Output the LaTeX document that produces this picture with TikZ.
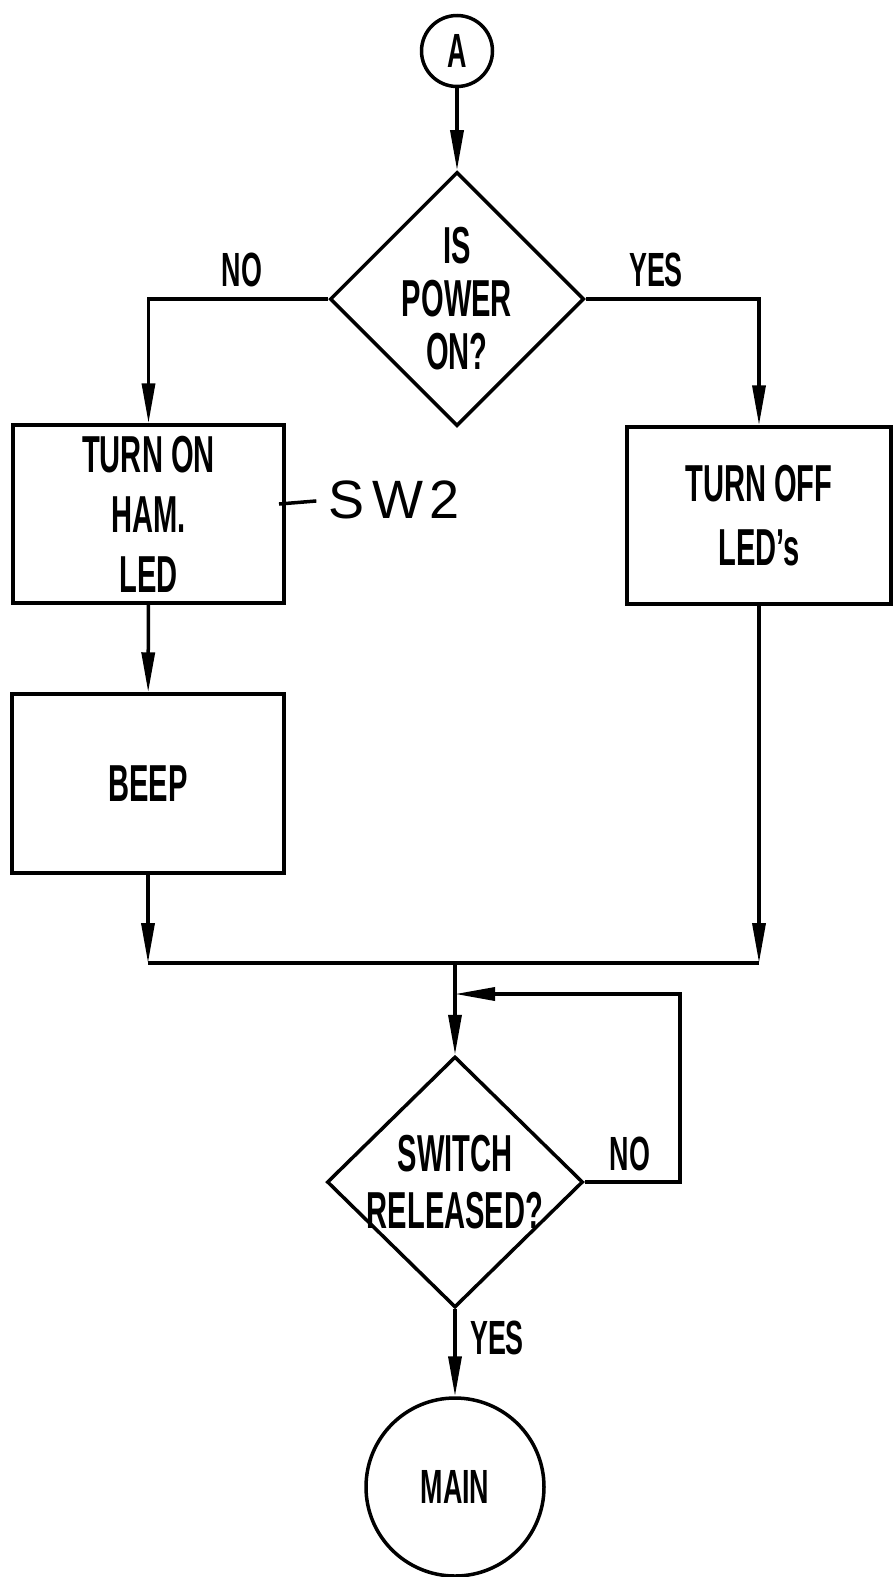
\documentclass[tikz,border=0pt]{standalone}
\usepackage{fontspec}
\newfontfamily\lbl{Liberation Sans Bold}[FakeStretch=0.56]
\newfontfamily\hand{Liberation Sans}
\usetikzlibrary{shapes.geometric,arrows.meta}
\begin{document}
\begin{tikzpicture}[x=1pt,y=-1pt,
  every node/.style={align=center},
  txt/.style={font=\lbl\fontsize{52}{#1}\selectfont},
  txt/.default=57,
  box/.style={draw, line width=3.5pt, rectangle, inner sep=0pt},
  dec/.style={draw, line width=3.5pt, diamond, inner sep=-40pt, aspect=1},
  term/.style={draw, line width=3.5pt, circle, inner sep=0pt},
  flow/.style={line width=3.5pt, -{Triangle[length=40pt,width=13pt]}},
  plain/.style={line width=3.5pt},
  lab/.style={inner sep=0pt, font=\lbl\fontsize{48}{48}\selectfont}]
\useasboundingbox (0,0) rectangle (893,1577);

\node[term, minimum size=71pt, font=\lbl\fontsize{48}{48}\selectfont] (a) at (457,51) {A};
\node[dec, txt=53, minimum width=254pt, minimum height=254pt] (d1) at (457,299) {IS\\POWER\\ON?};
\node[box, txt=60, minimum width=271pt, minimum height=178pt] (b1) at (148.5,514) {TURN ON\\HAM.\\LED};
\node[box, txt=64, minimum width=264pt, minimum height=177pt] (b2) at (759,515.5) {TURN OFF\\LED’s};
\node[box, txt, minimum width=272pt, minimum height=179pt] (b3) at (148,783.5) {BEEP};
\node[dec, txt=57, minimum width=256pt, minimum height=251pt] (d2) at (455,1182) {SWITCH\\RELEASED?};
\node[term, minimum size=178pt, font=\lbl\fontsize{48}{48}\selectfont] (main) at (455,1487) {MAIN};

\node[lab] (no1) at (242,270) {NO};
\node[lab] (yes1) at (656,270) {YES};
\node[lab] (no2) at (630,1154) {NO};
\node[lab] (yes2) at (497,1338) {YES};

\node[inner sep=0pt, font=\hand\fontsize{54}{54}\selectfont] (sw) at (394,500) {S\hspace{8pt}W\hspace{6pt}2};
\coordinate (swl) at (279,504);

\coordinate (m1) at (148,963);
\coordinate (m2) at (759,963);
\coordinate (mc) at (455,963);
\coordinate (fbc) at (680,994);
\coordinate (fb) at (455,994);

\draw[flow] (a) -- (d1);
\draw[flow] (d1.west) -| (b1.north);
\draw[flow] (d1.east) -| (b2.north);
\draw[flow] (b1) -- (b3);
\draw[flow] (b3) -- (m1);
\draw[flow] (b2) -- (m2);
\draw[plain] (m1) -- (m2);
\draw[flow] (mc) -- (d2);
\draw[flow] (d2.east) -| (fbc) -- (fb);
\draw[flow] (d2) -- (main);
\draw[plain, shorten >=12pt] (swl) -- (sw.west);
\end{tikzpicture}
\end{document}
